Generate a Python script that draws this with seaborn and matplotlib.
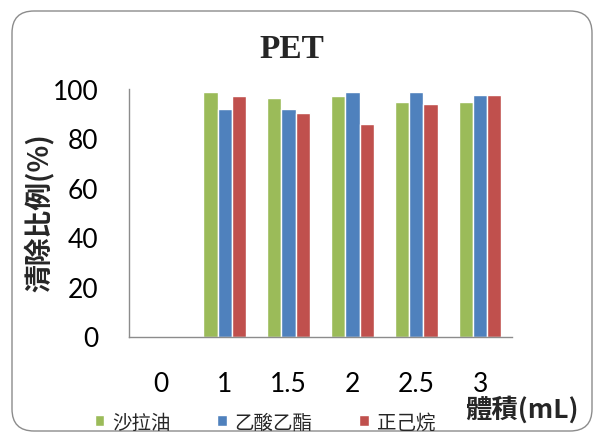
import matplotlib
matplotlib.use("Agg")
import matplotlib.pyplot as plt
import matplotlib.patches as mpatches
import seaborn as sns
import pandas as pd

# Cleaning ratio (%) per solvent at each volume (mL)
volumes = ["0", "1", "1.5", "2", "2.5", "3"]
salad_oil = [0, 98.7, 96.0, 96.9, 94.4, 94.4]
ethyl_acetate = [0, 91.7, 91.7, 98.5, 98.5, 97.5]
hexane = [0, 97.1, 90.0, 85.8, 93.8, 97.4]
series_names = ["沙拉油", "乙酸乙酯", "正己烷"]
colors = ["#9BBB59", "#4F81BD", "#C0504D"]

rows = []
for name, vals in zip(series_names, [salad_oil, ethyl_acetate, hexane]):
    for v, val in zip(volumes, vals):
        rows.append({"volume": v, "ratio": val, "solvent": name})
df = pd.DataFrame(rows)

sns.set_theme(style="white")
plt.rcParams["font.family"] = ["Lato", "Noto Sans CJK TC", "DejaVu Sans"]

fig = plt.figure(figsize=(5.95, 4.35), dpi=100)
fig.patch.set_facecolor("white")

# rounded outer frame
frame = mpatches.FancyBboxPatch((0.12, 0.03), 5.80, 4.20,
                                boxstyle="round,pad=0,rounding_size=0.22",
                                transform=fig.dpi_scale_trans,
                                facecolor="none", edgecolor="#8c8c8c",
                                linewidth=1.0, zorder=-1)
fig.patches.append(frame)

ax = fig.add_axes([129 / 595, 1 - 337.5 / 435, (512 - 129) / 595, (337.5 - 89.5) / 435])
ax.set_facecolor("none")

sns.barplot(data=df, x="volume", y="ratio", hue="solvent", order=volumes,
            hue_order=series_names, palette=colors, width=0.67,
            saturation=1, ax=ax, errorbar=None)

ax.set_ylim(0, 100)
ax.set_yticks([0, 20, 40, 60, 80, 100])
ax.tick_params(axis="both", length=0, labelsize=19, colors="black")
ax.tick_params(axis="y", pad=22)
ax.tick_params(axis="x", pad=25)
for s in ["top", "right"]:
    ax.spines[s].set_visible(False)
for s in ["left", "bottom"]:
    ax.spines[s].set_color("#8c8c8c")
    ax.spines[s].set_linewidth(1.0)
ax.set_xlabel("")
ax.set_ylabel("")

handles, labels = ax.get_legend_handles_labels()
ax.get_legend().remove()

fig.text(292 / 595, 1 - 49 / 435, "PET", ha="center", va="center",
         fontsize=24, fontweight="bold", family=["Liberation Serif", "DejaVu Serif"])
fig.text(40 / 595, 1 - 213 / 435, "清除比例(%)", ha="center", va="center",
         rotation=90, fontsize=20, fontweight="bold",
         family=["Noto Sans CJK TC", "DejaVu Sans"])
fig.text(522 / 595, 1 - 410 / 435, "體積(mL)", ha="center", va="center",
         fontsize=19, fontweight="bold",
         family=["Noto Sans CJK TC", "DejaVu Sans"])

leg = fig.legend(handles, labels, ncol=3, loc="center",
                 bbox_to_anchor=(265 / 595, 1 - 423 / 435), frameon=False,
                 handlelength=0.5, handleheight=0.5, handletextpad=0.4,
                 columnspacing=2.4,
                 prop={"family": ["Noto Sans CJK TC"], "size": 14})

fig.savefig("out.png", dpi=100)
